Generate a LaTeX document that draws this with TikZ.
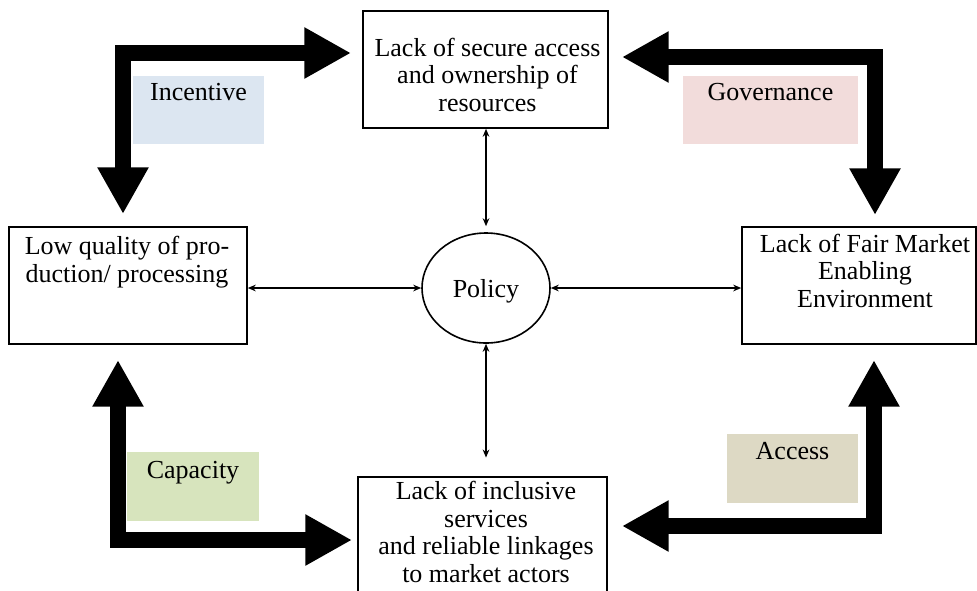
\documentclass[tikz,border=0pt]{standalone}
\usepackage{fontspec}
\setmainfont{Liberation Serif}
\usetikzlibrary{arrows.meta,shapes.geometric}
\definecolor{tagblue}{HTML}{DCE6F1}
\definecolor{tagpink}{HTML}{F2DCDB}
\definecolor{taggreen}{HTML}{D7E4BD}
\definecolor{tagtan}{HTML}{DDD9C4}
\tikzset{
  box/.style={draw, line width=1.2pt, inner sep=0pt, rectangle},
  txt/.style={align=center, inner sep=0pt, font=\fontsize{19.5}{20.6}\selectfont, anchor=base},
  thinarrow/.style={line width=1pt, {Stealth[length=6pt,width=5pt]}-{Stealth[length=6pt,width=5pt]}},
  bigarrow/.style={line width=12pt, line join=miter, {Triangle[length=35pt,width=36pt]}-{Triangle[length=35pt,width=36pt]}},
  tag/.style={inner sep=0pt, draw=none, rectangle},
}
\begin{document}
\begin{tikzpicture}[x=0.75pt,y=-0.75pt]
\useasboundingbox (0,0) rectangle (977,590);
% label backgrounds
\node[tag, fill=tagblue, minimum width=98.25pt, minimum height=51pt] (incbg) at (198.5,110) {};
\node[tag, fill=tagpink, minimum width=131.25pt, minimum height=51pt] (govbg) at (770.5,110) {};
\node[tag, fill=taggreen, minimum width=99pt, minimum height=51.75pt] (capbg) at (193,486.5) {};
\node[tag, fill=tagtan, minimum width=98.25pt, minimum height=51.75pt] (accbg) at (792.5,468.5) {};
\node[txt] (inc) at (198.5,100) {Incentive};
\node[txt] (gov) at (770.5,100) {Governance};
\node[txt] (cap) at (193,478) {Capacity};
\node[txt] (acc) at (792.5,459) {Access};
% boxes
\node[box, minimum width=183.75pt, minimum height=87.75pt] (top) at (485.5,69.5) {};
\node[box, minimum width=178.5pt, minimum height=87.75pt] (left) at (128,285.5) {};
\node[box, minimum width=175.5pt, minimum height=87.75pt] (right) at (859,285.5) {};
\node[box, minimum width=186.75pt, minimum height=92.25pt] (bottom) at (482.5,538.5) {};
\node[draw, line width=1.2pt, ellipse, inner sep=0pt, minimum width=96pt, minimum height=82.5pt] (policy) at (486,288) {};
% box texts (base = last line's baseline)
\node[txt] (topt) at (487.5,111) {Lack of secure access\\and ownership of\\resources};
\node[txt] (leftt) at (127,282) {Low quality of pro-\\duction/ processing};
\node[txt] (rightt) at (865,307) {Lack of Fair Market\\Enabling\\Environment};
\node[txt] (bottomt) at (486,582) {Lack of inclusive\\services\\and reliable linkages\\to market actors};
\node[txt] (policyt) at (486,297) {Policy};
% thin arrows
\draw[thinarrow] (top.south -| policy.north) -- ([yshift=4.5pt]policy.north);
\draw[thinarrow] (policy.south) -- ([yshift=14pt]bottom.north -| policy.south);
\draw[thinarrow] (policy.west -| left.east) -- (policy.west);
\draw[thinarrow] (policy.east) -- (policy.east -| right.west);
% big elbow arrows
\coordinate (tlA) at (123,214);
\coordinate (tlB) at (351,53);
\coordinate (trA) at (622,57);
\coordinate (trB) at (875,215);
\coordinate (blA) at (118,360);
\coordinate (blB) at (352,540);
\coordinate (brA) at (622,526);
\coordinate (brB) at (874,360);
\draw[bigarrow] (tlA) |- (tlB);
\draw[bigarrow] (trA) -| (trB);
\draw[bigarrow] (blA) |- (blB);
\draw[bigarrow] (brA) -| (brB);
\end{tikzpicture}
\end{document}
